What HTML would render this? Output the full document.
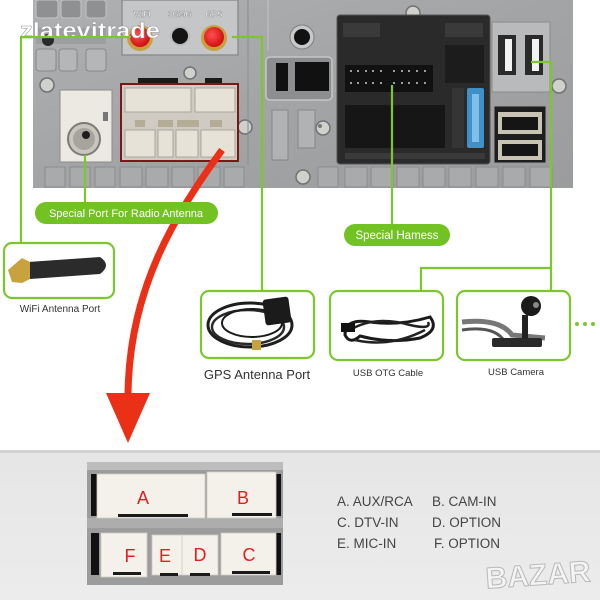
<!DOCTYPE html>
<html><head><meta charset="utf-8"><style>
html,body{margin:0;padding:0;background:#fff;width:600px;height:600px;overflow:hidden}
svg{display:block}
text{font-family:"Liberation Sans",Arial,sans-serif}
</style></head><body>
<svg width="600" height="600" viewBox="0 0 600 600" xmlns="http://www.w3.org/2000/svg">
<defs>
<linearGradient id="metal" x1="0" y1="0" x2="1" y2="1">
<stop offset="0" stop-color="#aeb0b2"/><stop offset="0.5" stop-color="#a2a4a6"/><stop offset="1" stop-color="#9a9c9e"/>
</linearGradient>
<radialGradient id="redc" cx="0.4" cy="0.4" r="0.6"><stop offset="0" stop-color="#ff5050"/><stop offset="1" stop-color="#d01010"/></radialGradient>
<linearGradient id="bot" x1="0" y1="0" x2="0" y2="1"><stop offset="0" stop-color="#e6e6e6"/><stop offset="1" stop-color="#ececec"/></linearGradient>
</defs>
<rect width="600" height="600" fill="#fff"/>

<!-- ===== METAL PANEL ===== -->
<rect x="33" y="0" width="540" height="188" fill="url(#metal)"/>
<g fill="#8e9092" stroke="#c2c4c6" stroke-width="1">
<rect x="36" y="0" width="22" height="18" rx="3"/>
<rect x="61" y="0" width="20" height="18" rx="3"/>
<rect x="86" y="0" width="20" height="18" rx="3"/>
</g>
<g fill="#b4b6b8" stroke="#86888a" stroke-width="1">
<rect x="36" y="49" width="20" height="22" rx="3"/>
<rect x="59" y="49" width="18" height="22" rx="3"/>
<rect x="86" y="49" width="20" height="22" rx="3"/>
</g>
<rect x="36" y="28" width="70" height="16" fill="#9c9ea0"/>
<circle cx="48" cy="40" r="6" fill="#2a2a2a"/>
<g>
<circle cx="47" cy="85" r="7" fill="#d0d0cc" stroke="#6f7173" stroke-width="1.5"/>
<circle cx="190" cy="73" r="6" fill="#d0d0cc" stroke="#6f7173" stroke-width="1.5"/>
<circle cx="245" cy="127" r="7" fill="#d0d0cc" stroke="#6f7173" stroke-width="1.5"/>
<circle cx="323" cy="128" r="7" fill="#d0d0cc" stroke="#6f7173" stroke-width="1.5"/>
<circle cx="303" cy="177" r="7" fill="#d0d0cc" stroke="#6f7173" stroke-width="1.5"/>
<circle cx="413" cy="13" r="7" fill="#d0d0cc" stroke="#6f7173" stroke-width="1.5"/>
<circle cx="559" cy="86" r="7" fill="#d0d0cc" stroke="#6f7173" stroke-width="1.5"/>
<circle cx="320" cy="126" r="2" fill="#777"/>
</g>
<rect x="60" y="90" width="52" height="72" fill="#ebe9e2" stroke="#8a8c8e" stroke-width="1"/>
<rect x="103" y="112" width="5" height="9" fill="#777"/>
<circle cx="84" cy="139" r="16" fill="#c8c6bd" stroke="#7b7b76" stroke-width="2"/>
<circle cx="84" cy="139" r="11" fill="#a6a49c"/>
<circle cx="86" cy="135" r="4" fill="#1e1e1e"/>
<g fill="#a8aaac" stroke="#8a8c8e" stroke-width="1">
<rect x="45" y="167" width="20" height="20"/><rect x="70" y="167" width="20" height="20"/><rect x="95" y="167" width="20" height="20"/>
<rect x="120" y="167" width="22" height="20"/><rect x="146" y="167" width="22" height="20"/><rect x="172" y="167" width="22" height="20"/>
<rect x="198" y="167" width="22" height="20"/><rect x="224" y="167" width="20" height="20"/>
<rect x="318" y="167" width="20" height="20"/><rect x="345" y="167" width="22" height="20"/><rect x="371" y="167" width="22" height="20"/>
<rect x="397" y="167" width="22" height="20"/><rect x="423" y="167" width="22" height="20"/><rect x="449" y="167" width="22" height="20"/>
<rect x="476" y="167" width="22" height="20"/><rect x="503" y="167" width="22" height="20"/><rect x="530" y="167" width="22" height="20"/>
</g>
<rect x="122" y="0" width="116" height="55" fill="#c4c6c8" stroke="#8d8f91" stroke-width="1.5"/>
<text x="142" y="17" font-size="8" font-weight="bold" fill="#fff" text-anchor="middle" stroke="#888" stroke-width="0.4">WIFI</text>
<text x="180" y="17" font-size="8" font-weight="bold" fill="#fff" text-anchor="middle" stroke="#888" stroke-width="0.4">3G/4G</text>
<text x="214" y="17" font-size="8" font-weight="bold" fill="#fff" text-anchor="middle" stroke="#888" stroke-width="0.4">GPS</text>
<circle cx="140" cy="38" r="13" fill="#c8a040"/><circle cx="140" cy="37" r="10" fill="url(#redc)"/>
<circle cx="180" cy="36" r="10" fill="#bbb"/><circle cx="180" cy="36" r="8" fill="#141414"/>
<circle cx="214" cy="38" r="13" fill="#c8a040"/><circle cx="214" cy="37" r="10" fill="url(#redc)"/>
<rect x="138" y="78" width="40" height="8" fill="#1a1a1a"/><rect x="205" y="78" width="17" height="8" fill="#1a1a1a"/>
<rect x="121" y="84" width="117" height="77" fill="#cfcbc2" stroke="#7a1818" stroke-width="2"/>
<g fill="#e6e2d8" stroke="#9e9a90" stroke-width="0.8">
<rect x="125" y="88" width="66" height="24"/><rect x="195" y="88" width="40" height="24"/>
<rect x="125" y="130" width="30" height="27"/><rect x="158" y="130" width="15" height="27"/>
<rect x="176" y="130" width="22" height="27"/><rect x="201" y="130" width="34" height="27"/>
</g>
<g fill="#b5ac95"><rect x="135" y="120" width="10" height="7"/><rect x="158" y="120" width="15" height="7"/><rect x="177" y="120" width="22" height="7"/><rect x="210" y="120" width="12" height="7"/></g>
<line x1="248" y1="0" x2="248" y2="165" stroke="#8a8c8e" stroke-width="1"/>
<line x1="268" y1="0" x2="268" y2="50" stroke="#c0c2c4" stroke-width="1"/>
<circle cx="302" cy="37" r="12" fill="#c6c8ca" stroke="#7d7f81"/><circle cx="302" cy="37" r="8" fill="#111"/>
<rect x="266" y="57" width="66" height="43" rx="4" fill="#8c8e90" stroke="#c4c6c8" stroke-width="1.5"/>
<rect x="276" y="63" width="12" height="28" fill="#111"/><rect x="295" y="62" width="34" height="29" fill="#111"/>
<rect x="272" y="110" width="16" height="50" fill="#b0b2b4" stroke="#85878a"/><rect x="298" y="110" width="17" height="38" fill="#b0b2b4" stroke="#85878a"/>
<rect x="337" y="15" width="153" height="149" rx="3" fill="#2a2a2b" stroke="#555" stroke-width="1"/>
<rect x="343" y="23" width="37" height="14" fill="#3a3a3b"/><rect x="445" y="23" width="38" height="14" fill="#3a3a3b"/>
<rect x="445" y="45" width="39" height="38" fill="#1c1c1d"/>
<rect x="345" y="65" width="88" height="27" fill="#111"/>
<g fill="#ccc">
<circle cx="351" cy="71" r="1"/><circle cx="358" cy="71" r="1"/><circle cx="366" cy="71" r="1"/><circle cx="373" cy="71" r="1"/><circle cx="381" cy="71" r="1"/>
<circle cx="394" cy="71" r="1"/><circle cx="402" cy="71" r="1"/><circle cx="409" cy="71" r="1"/><circle cx="417" cy="71" r="1"/><circle cx="425" cy="71" r="1"/>
<circle cx="351" cy="83" r="1"/><circle cx="358" cy="83" r="1"/><circle cx="366" cy="83" r="1"/><circle cx="373" cy="83" r="1"/><circle cx="381" cy="83" r="1"/>
<circle cx="394" cy="83" r="1"/><circle cx="402" cy="83" r="1"/><circle cx="409" cy="83" r="1"/><circle cx="417" cy="83" r="1"/><circle cx="425" cy="83" r="1"/>
</g>
<rect x="345" y="105" width="100" height="43" fill="#161617"/>
<rect x="345" y="153" width="140" height="6" fill="#3a3a3b"/>
<rect x="452" y="88" width="12" height="60" fill="#353536"/>
<rect x="467" y="88" width="17" height="60" rx="2" fill="#3f8fc8"/>
<rect x="472" y="94" width="7" height="48" fill="#7ec0ea"/>
<rect x="492" y="22" width="58" height="70" fill="#b8babc" stroke="#888a8c"/>
<rect x="498" y="35" width="18" height="40" fill="#2a2a2a"/><rect x="525" y="35" width="18" height="40" fill="#2a2a2a"/>
<rect x="505" y="39" width="7" height="32" fill="#f2f2f2"/><rect x="532" y="39" width="7" height="32" fill="#f2f2f2"/>
<rect x="494" y="106" width="52" height="57" fill="#1e1e1e" stroke="#999"/>
<rect x="498" y="112" width="44" height="22" fill="#c9c3b3"/><rect x="502" y="117" width="36" height="13" fill="#151515"/>
<rect x="498" y="140" width="44" height="20" fill="#c9c3b3"/><rect x="502" y="144" width="36" height="12" fill="#151515"/>

<!-- watermark -->
<text x="20" y="38" font-size="22" font-weight="bold" fill="#fff" stroke="#9a9a9a" stroke-width="0.5" textLength="140" lengthAdjust="spacingAndGlyphs">zlatevitrade</text>

<!-- ===== GREEN LINES ===== -->
<g stroke="#7cc72e" stroke-width="2.2" fill="none">
<polyline points="130,37 21,37 21,243"/>
<polyline points="232,37 262,37 262,291"/>
<line x1="85" y1="155" x2="85" y2="203"/>
<line x1="392" y1="85" x2="392" y2="225"/>
<polyline points="531,62 551,62 551,291"/>
<polyline points="551,268 421,268 421,291"/>
</g>

<!-- ===== RED ARROW ===== -->
<path d="M222,150 C175,215 128,290 128,398" fill="none" stroke="#ea3118" stroke-width="7"/>
<polygon points="106,393 150,393 128,443" fill="#ea3118"/>

<!-- pills (over arrow) -->
<rect x="35" y="202" width="183" height="22" rx="11" fill="#72c224"/>
<text x="126" y="217" font-size="11" fill="#fff" text-anchor="middle">Special Port For Radio Antenna</text>
<rect x="344" y="224" width="106" height="22" rx="11" fill="#72c224"/>
<text x="397" y="239" font-size="11.5" fill="#fff" text-anchor="middle">Special Hamess</text>

<!-- ===== BOXES ===== -->
<g fill="#fff" stroke="#7cc72e" stroke-width="2.2">
<rect x="4" y="243" width="110" height="55" rx="8"/>
<rect x="201" y="291" width="113" height="67" rx="8"/>
<rect x="330" y="291" width="113" height="69" rx="8"/>
<rect x="457" y="291" width="113" height="69" rx="8"/>
</g>
<path d="M28,262 L100,257 Q112,265 100,274 L30,279 Z" fill="#2b2b2b"/>
<path d="M8,270 L22,258 L30,262 L30,279 L22,283 L12,282 Z" fill="#c8a23e"/>
<ellipse cx="250" cy="325" rx="42" ry="22" fill="none" stroke="#1e1e1e" stroke-width="3"/>
<ellipse cx="248" cy="327" rx="36" ry="17" fill="none" stroke="#2a2a2a" stroke-width="2.5"/>
<ellipse cx="252" cy="323" rx="30" ry="14" fill="none" stroke="#1a1a1a" stroke-width="2"/>
<rect x="264" y="298" width="26" height="26" rx="3" fill="#1b1b1b" transform="rotate(-8 277 311)"/>
<rect x="252" y="340" width="9" height="10" fill="#c8a23e"/>
<path d="M345,335 Q345,318 370,322 Q400,326 430,317 Q440,330 420,338 Q390,344 360,336 Q350,345 345,335 Z" fill="none" stroke="#1a1a1a" stroke-width="3"/>
<path d="M350,330 Q375,315 410,325 Q432,330 428,322 M355,340 Q390,348 425,330" fill="none" stroke="#222" stroke-width="2.5"/>
<rect x="341" y="323" width="14" height="9" fill="#111"/>
<path d="M462,322 Q500,318 512,335 L545,338" fill="none" stroke="#777" stroke-width="5"/>
<path d="M462,330 Q495,325 505,342 L540,345" fill="none" stroke="#555" stroke-width="3"/>
<rect x="492" y="338" width="50" height="9" rx="2" fill="#2a2a2a"/>
<rect x="522" y="315" width="6" height="24" fill="#222"/>
<circle cx="531" cy="306" r="10" fill="#1b1b1b"/><circle cx="536" cy="305" r="3" fill="#888"/>
<g fill="#7cc72e"><circle cx="577" cy="324" r="2"/><circle cx="585" cy="324" r="2"/><circle cx="593" cy="324" r="2"/></g>
<text x="60" y="312" font-size="10" fill="#333" text-anchor="middle">WiFi Antenna Port</text>
<text x="257" y="379" font-size="13" fill="#333" text-anchor="middle">GPS Antenna Port</text>
<text x="388" y="376" font-size="9.5" fill="#333" text-anchor="middle">USB OTG Cable</text>
<text x="516" y="375" font-size="9.5" fill="#333" text-anchor="middle">USB Camera</text>

<!-- ===== BOTTOM PANEL ===== -->
<rect x="0" y="450" width="600" height="150" fill="url(#bot)"/>
<rect x="0" y="450" width="600" height="3" fill="#d2d2d2"/>
<rect x="87" y="462" width="196" height="123" fill="#9c9c9c"/>
<rect x="87" y="462" width="196" height="8" fill="#bdbdbd"/>
<rect x="87" y="518" width="196" height="10" fill="#adadad"/>
<rect x="91" y="474" width="8" height="42" fill="#111"/><rect x="276" y="474" width="5" height="42" fill="#111"/>
<rect x="91" y="533" width="8" height="42" fill="#111"/><rect x="276" y="533" width="5" height="42" fill="#111"/>
<g fill="#f3f1ea" stroke="#cfccc2" stroke-width="0.8">
<rect x="97" y="474" width="108" height="44"/><rect x="207" y="472" width="69" height="46"/>
<rect x="101" y="533" width="46" height="44"/><rect x="152" y="535" width="31" height="40"/>
<rect x="182" y="535" width="36" height="40"/><rect x="221" y="533" width="55" height="42"/>
</g>
<g fill="#1a1a1a"><rect x="118" y="514" width="70" height="3"/><rect x="232" y="513" width="40" height="3"/>
<rect x="113" y="572" width="28" height="3"/><rect x="160" y="573" width="18" height="3"/><rect x="190" y="573" width="20" height="3"/><rect x="232" y="571" width="38" height="3"/></g>
<g fill="#e02020" font-size="18" text-anchor="middle">
<text x="143" y="504">A</text><text x="243" y="504">B</text>
<text x="130" y="562">F</text><text x="165" y="562">E</text><text x="200" y="561">D</text><text x="249" y="561">C</text>
</g>
<g fill="#444" font-size="13.5">
<text x="337" y="506">A. AUX/RCA</text><text x="432" y="506">B. CAM-IN</text>
<text x="337" y="527">C. DTV-IN</text><text x="432" y="527">D. OPTION</text>
<text x="337" y="548">E. MIC-IN</text><text x="434" y="548">F. OPTION</text>
</g>
<text x="538" y="585" font-size="30" font-weight="bold" fill="#f4f4f4" stroke="#b8b8b8" stroke-width="1" text-anchor="middle" transform="rotate(-4 538 575)">BAZAR</text>
</svg>
</body></html>
